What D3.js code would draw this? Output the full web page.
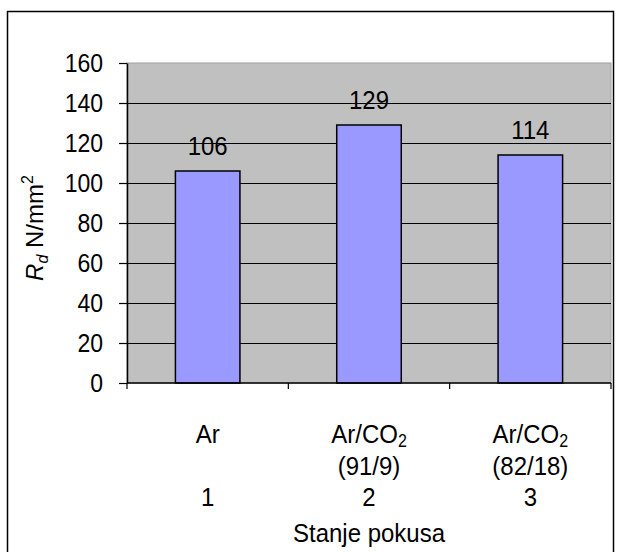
<!DOCTYPE html>
<html>
<head>
<meta charset="utf-8">
<script src="https://cdn.jsdelivr.net/npm/d3@7"></script>
<style>
  body { margin: 0; background: #fff; }
  text { font-family: "Liberation Sans", Arial, sans-serif; fill: #000; }
</style>
</head>
<body>
<div id="chart"></div>
<script>
// data
var categories = ["1", "2", "3"];
var gasLines = [["Ar"], ["Ar/CO|2", "(91/9)"], ["Ar/CO|2", "(82/18)"]];
var values = [106, 129, 114];
var yTicks = [0, 20, 40, 60, 80, 100, 120, 140, 160];

var width = 620, height = 552;
var plot = {left: 127, right: 611, top: 63, bottom: 383};
var fs = 24;          // main font size
var stretch = 1.1;    // text in the original is a bit tall

var svg = d3.select("#chart").append("svg")
    .attr("width", width)
    .attr("height", height);

// outer frame
svg.append("rect")
    .attr("x", 7.5).attr("y", 11.5)
    .attr("width", 606).attr("height", 545)
    .attr("fill", "#fff")
    .attr("stroke", "#000")
    .attr("stroke-width", 1.5);

// scales
var x = d3.scaleBand().domain(categories).range([plot.left, plot.right]).padding(0);
var y = d3.scaleLinear().domain([0, 160]).range([plot.bottom, plot.top]);

// places a slightly stretched text at x,y (baseline)
function label(parent, tx, ty, size) {
    return parent.append("text")
        .attr("transform", "translate(" + tx + "," + ty + ") scale(1," + stretch + ")")
        .attr("text-anchor", "middle")
        .style("font-size", (size || fs) + "px");
}

// plot background
svg.append("rect")
    .attr("x", plot.left).attr("y", plot.top)
    .attr("width", plot.right - plot.left).attr("height", plot.bottom - plot.top)
    .attr("fill", "#c0c0c0")
    .attr("stroke", "#a0a0a0")
    .attr("stroke-width", 1);

// gridlines
svg.append("g")
    .selectAll("line")
    .data(yTicks.filter(function (d) { return d > 0 && d < 160; }))
    .enter().append("line")
    .attr("x1", plot.left).attr("x2", plot.right)
    .attr("y1", function (d) { return Math.round(y(d)) + 0.5; })
    .attr("y2", function (d) { return Math.round(y(d)) + 0.5; })
    .attr("stroke", "#000")
    .attr("stroke-width", 1);

// bars
var barW = x.bandwidth() * 0.4;
svg.append("g")
    .selectAll("rect")
    .data(values)
    .enter().append("rect")
    .attr("x", function (d, i) { return x(categories[i]) + (x.bandwidth() - barW) / 2; })
    .attr("y", function (d) { return y(d); })
    .attr("width", barW)
    .attr("height", function (d) { return y(0) - y(d); })
    .attr("fill", "#9999ff")
    .attr("stroke", "#000")
    .attr("stroke-width", 1.5);

// value labels
values.forEach(function (v, i) {
    label(svg, x(categories[i]) + x.bandwidth() / 2, y(v) - 16).text(v);
});

// y axis
var yAxis = svg.append("g")
    .attr("transform", "translate(" + plot.left + ",0)")
    .call(d3.axisLeft(y).tickValues(yTicks).tickSize(8).tickPadding(16).tickSizeOuter(0));
yAxis.select(".domain").attr("stroke", "#000").attr("stroke-width", 1.5);
yAxis.selectAll(".tick line").attr("stroke", "#000").attr("stroke-width", 1.2);
yAxis.selectAll(".tick text")
    .attr("transform", "scale(1," + stretch + ")")
    .style("font-size", "23px")
    .style("font-family", "Liberation Sans, Arial, sans-serif");

// x axis: ticks sit on band boundaries
var xBounds = categories.map(function (c) { return x(c); }).concat([plot.right]);
svg.append("line")
    .attr("x1", plot.left).attr("x2", plot.right)
    .attr("y1", plot.bottom).attr("y2", plot.bottom)
    .attr("stroke", "#000").attr("stroke-width", 1.5);
svg.append("g")
    .selectAll("line")
    .data(xBounds)
    .enter().append("line")
    .attr("x1", function (d) { return d; }).attr("x2", function (d) { return d; })
    .attr("y1", plot.bottom).attr("y2", plot.bottom + 6)
    .attr("stroke", "#000").attr("stroke-width", 1.2);

// category labels (gas + number)
categories.forEach(function (c, i) {
    var cx = x(c) + x.bandwidth() / 2;
    gasLines[i].forEach(function (line, j) {
        var t = label(svg, cx, 443 + j * 32);
        var parts = line.split("|");
        t.append("tspan").text(parts[0]);
        if (parts[1]) {
            t.append("tspan").attr("dy", 4).style("font-size", "16px").text(parts[1]);
        }
    });
    label(svg, cx, 506).text(c);
});

// x title
label(svg, (plot.left + plot.right) / 2, 542).text("Stanje pokusa");

// y title
var yt = svg.append("text")
    .attr("transform", "translate(43,228) rotate(-90)")
    .attr("text-anchor", "middle")
    .style("font-size", fs + "px");
yt.append("tspan").style("font-style", "italic").text("R");
yt.append("tspan").style("font-style", "italic").style("font-size", "16px").attr("dy", 5).text("d");
yt.append("tspan").attr("dy", -5).text(" N/mm");
yt.append("tspan").style("font-size", "16px").attr("dy", -10).text("2");
</script>
</body>
</html>
